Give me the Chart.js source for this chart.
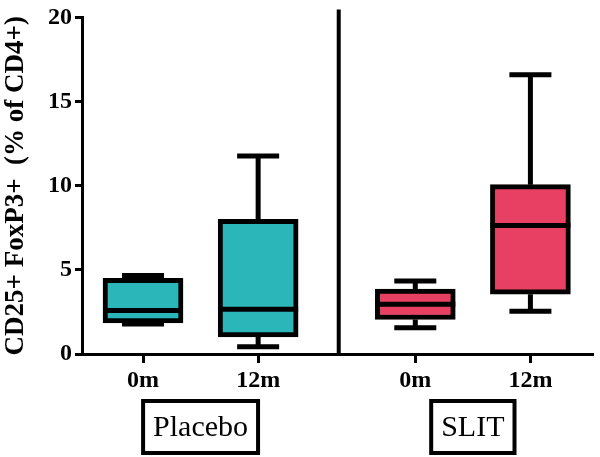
<!DOCTYPE html>
<html>
<head>
<meta charset="utf-8">
<script src="https://cdn.jsdelivr.net/npm/chart.js@4/dist/chart.umd.min.js"></script>
<style>
  html, body { margin: 0; padding: 0; background: #fff; }
  #wrap { width: 600px; height: 457px; }
</style>
</head>
<body>
<div id="wrap"><canvas id="boxChart" width="600" height="457"></canvas></div>
<script>
// Box plot values (CD25+ FoxP3+ % of CD4+)
const categories = ['0m', '12m', '0m', '12m'];
const groups = ['Placebo', 'SLIT'];
const xPositions = [1, 2, 3.365, 4.365];
const dividerX = 2.7;
const mins = [1.78, 0.43, 1.56, 2.54];
const q1s = [1.85, 1.02, 2.05, 3.55];
const medians = [2.58, 2.66, 2.96, 7.63];
const q3s = [4.5, 8.0, 3.86, 10.06];
const maxs = [4.67, 11.76, 4.34, 16.59];
const boxColors = ['#2bb6ba', '#2bb6ba', '#e84062', '#e84062'];
const yTicks = [0, 5, 10, 15, 20];

const serif = '"Liberation Serif", Tinos, "DejaVu Serif", serif';

// whiskers, medians, divider and the group label boxes
const boxExtras = {
  id: 'boxExtras',
  afterDatasetsDraw(chart) {
    const ctx = chart.ctx;
    const xs = chart.scales.x;
    const ys = chart.scales.y;
    ctx.save();
    ctx.strokeStyle = '#000';
    ctx.lineCap = 'butt';

    xPositions.forEach((xv, i) => {
      const cx = xs.getPixelForValue(xv);
      const capHalf = 21;
      const boxHalf = 40;
      ctx.lineWidth = 5;
      ctx.beginPath();
      ctx.moveTo(cx, ys.getPixelForValue(q3s[i]));
      ctx.lineTo(cx, ys.getPixelForValue(maxs[i]));
      ctx.moveTo(cx, ys.getPixelForValue(q1s[i]));
      ctx.lineTo(cx, ys.getPixelForValue(mins[i]));
      ctx.stroke();

      ctx.beginPath();
      ctx.moveTo(cx - capHalf, ys.getPixelForValue(maxs[i]));
      ctx.lineTo(cx + capHalf, ys.getPixelForValue(maxs[i]));
      ctx.moveTo(cx - capHalf, ys.getPixelForValue(mins[i]));
      ctx.lineTo(cx + capHalf, ys.getPixelForValue(mins[i]));
      ctx.stroke();

      ctx.beginPath();
      ctx.moveTo(cx - boxHalf, ys.getPixelForValue(medians[i]));
      ctx.lineTo(cx + boxHalf, ys.getPixelForValue(medians[i]));
      ctx.stroke();
    });

    // vertical divider between groups
    const dx = xs.getPixelForValue(dividerX);
    ctx.lineWidth = 4;
    ctx.beginPath();
    ctx.moveTo(dx, chart.chartArea.top - 8);
    ctx.lineTo(dx, chart.chartArea.bottom);
    ctx.stroke();
    ctx.restore();
  },
  afterDraw(chart) {
    const ctx = chart.ctx;
    const xs = chart.scales.x;
    ctx.save();
    ctx.font = '30px ' + serif;
    ctx.textAlign = 'center';
    ctx.textBaseline = 'middle';
    ctx.fillStyle = '#000';
    ctx.strokeStyle = '#000';
    ctx.lineWidth = 4;
    groups.forEach((g, gi) => {
      const cx = (xs.getPixelForValue(xPositions[gi * 2]) + xs.getPixelForValue(xPositions[gi * 2 + 1])) / 2;
      const cy = 427;
      const w = ctx.measureText(g).width + 20;
      const h = 52;
      ctx.strokeRect(cx - w / 2, cy - h / 2, w, h);
      ctx.fillText(g, cx, cy + 1);
    });
    ctx.restore();
  }
};

new Chart(document.getElementById('boxChart'), {
  type: 'bar',
  data: {
    datasets: [{
      data: xPositions.map((x, i) => ({ x: x, y: [q1s[i], q3s[i]] })),
      backgroundColor: boxColors,
      borderColor: '#000',
      borderWidth: 5,
      borderSkipped: false,
      barThickness: 80
    }]
  },
  options: {
    responsive: false,
    animation: false,
    layout: { padding: { top: 16, right: 8, left: 0, bottom: 0 } },
    plugins: {
      legend: { display: false },
      tooltip: { enabled: false }
    },
    scales: {
      x: {
        type: 'linear',
        min: 0.47,
        max: 4.9,
        offset: false,
        afterBuildTicks: (scale) => {
          scale.ticks = xPositions.map(v => ({ value: v }));
        },
        afterFit: (scale) => { scale.height = 103; },
        grid: {
          offset: false,
          drawOnChartArea: false,
          drawTicks: true,
          tickLength: 9,
          color: '#000',
          lineWidth: 3
        },
        border: { display: true, color: '#000', width: 3 },
        ticks: {
          color: '#000',
          padding: 3,
          maxRotation: 0,
          autoSkip: false,
          font: { family: serif, size: 24, weight: 'bold' },
          callback: (value, index) => categories[index]
        }
      },
      y: {
        min: 0,
        max: 20,
        afterBuildTicks: (scale) => {
          scale.ticks = yTicks.map(v => ({ value: v }));
        },
        afterFit: (scale) => { scale.width = 82; },
        grid: {
          drawOnChartArea: false,
          drawTicks: true,
          tickLength: 7,
          color: '#000',
          lineWidth: 3
        },
        border: { display: true, color: '#000', width: 3 },
        ticks: {
          color: '#000',
          padding: 3,
          font: { family: serif, size: 24, weight: 'bold' }
        },
        title: {
          display: true,
          text: 'CD25+ FoxP3+  (% of CD4+)',
          color: '#000',
          padding: 0,
          font: { family: serif, size: 27, weight: 'bold' }
        }
      }
    }
  },
  plugins: [boxExtras]
});
</script>
</body>
</html>
